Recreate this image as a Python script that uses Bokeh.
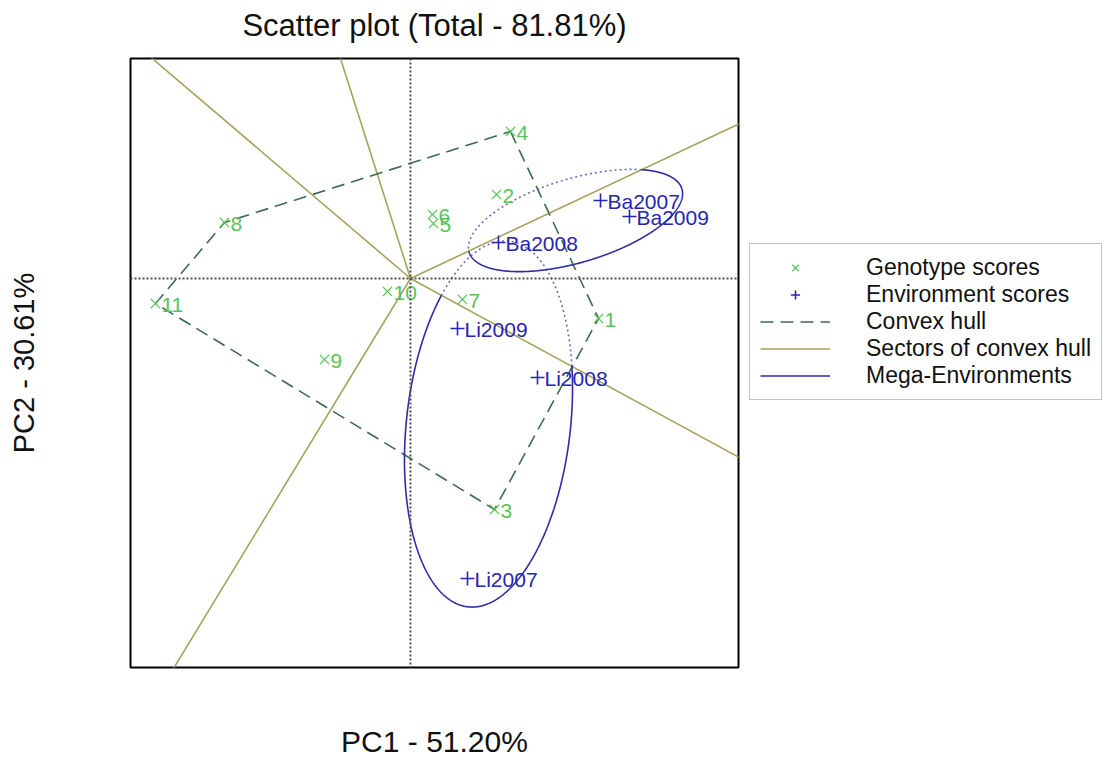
import numpy as np
from bokeh.plotting import figure
from bokeh.models import Legend, LegendItem, ColumnDataSource, Range1d, FixedTicker, Span, LinearAxis
from bokeh.embed import file_html
from bokeh.resources import INLINE
from bokeh.core.properties import value

# ---------------- data ----------------
gen_labels = ["1", "2", "3", "4", "5", "6", "7", "8", "9", "10", "11"]
gen_pc1 = [1.88, 0.86, 0.84, 1.00, 0.23, 0.22, 0.52, -1.86, -0.86, -0.23, -2.55]
gen_pc2 = [-0.40, 0.84, -2.31, 1.47, 0.55, 0.64, -0.21, 0.56, -0.81, -0.13, -0.25]

env_labels = ["Ba2007", "Ba2009", "Ba2008", "Li2009", "Li2008", "Li2007"]
env_pc1 = [1.90, 2.19, 0.88, 0.47, 1.27, 0.57]
env_pc2 = [0.78, 0.62, 0.36, -0.50, -0.99, -3.00]

hull_order = ["4", "1", "3", "11", "8"]

# mega-environment ellipses
me_cx = [1.65, 0.78]
me_cy = [0.58, -1.455]
me_a = [1.11, 1.84]
me_b = [0.42, 0.82]
me_angle = [16.5, 83.6]
me_winner = ["1", "3"]

x_lim = (-2.80, 3.28)
y_lim = (-3.89, 2.20)

title_text = "Scatter plot (Total - 81.81%)"
xlab = "PC1 - 51.20%"
ylab = "PC2 - 30.61%"

# ---------------- colours ----------------
C_GEN = "#58c458"
C_ENV = "#2626ae"
C_HULL = "#3d6b4f"
C_SECT = "#a7a25d"
C_ELL = "#2c2ca6"
C_ELL_DOT = "#6a6ac4"
FONT = "Liberation Sans"

p = figure(frame_width=608, frame_height=609, output_backend="svg", toolbar_location=None,
           x_range=Range1d(*x_lim), y_range=Range1d(*y_lim),
           min_border_left=130, min_border_right=360, min_border_top=58, min_border_bottom=96)
p.grid.visible = False
p.outline_line_color = "black"
p.outline_line_width = 2
p.background_fill_color = "white"
p.border_fill_color = "white"
p.title.visible = False

bottom_axis = p.below[0]
left_axis = p.left[0]
# title drawn as the label of an (otherwise empty) top axis
top_axis = LinearAxis(axis_label=title_text)
p.add_layout(top_axis, "above")

for ax in (bottom_axis, left_axis, top_axis):
    ax.ticker = FixedTicker(ticks=[])
    ax.axis_line_color = None
    ax.major_tick_line_color = None
    ax.minor_tick_line_color = None
    ax.major_label_text_font_size = "0px"
    ax.major_tick_out = 0
    ax.major_label_standoff = 0
    ax.axis_label_text_font = FONT
    ax.axis_label_text_font_style = "normal"
    ax.axis_label_text_color = "#111111"
bottom_axis.axis_label = xlab
left_axis.axis_label = ylab
bottom_axis.axis_label_text_font_size = "30px"
left_axis.axis_label_text_font_size = "29px"
top_axis.axis_label_text_font_size = "31px"
bottom_axis.axis_label_standoff = 57
left_axis.axis_label_standoff = 91
top_axis.axis_label_standoff = 16

# dotted reference axes
p.add_layout(Span(location=0, dimension="width", line_color="#505050", line_dash="2 2", line_width=2))
p.add_layout(Span(location=0, dimension="height", line_color="#505050", line_dash="2 2", line_width=2))

gx = dict(zip(gen_labels, gen_pc1))
gy = dict(zip(gen_labels, gen_pc2))

# sectors: rays from origin perpendicular to hull edges
sx, sy = [], []
for i in range(len(hull_order)):
    P = np.array([gx[hull_order[i]], gy[hull_order[i]]])
    Q = np.array([gx[hull_order[(i + 1) % len(hull_order)]], gy[hull_order[(i + 1) % len(hull_order)]]])
    d = Q - P
    n = np.array([d[1], -d[0]])
    if n @ P < 0:
        n = -n
    n = n / np.linalg.norm(n) * 20
    sx.append([0, n[0]])
    sy.append([0, n[1]])
r_sect = p.multi_line(sx, sy, line_color=C_SECT, line_width=1.6)

# convex hull
hx = [gx[k] for k in hull_order] + [gx[hull_order[0]]]
hy = [gy[k] for k in hull_order] + [gy[hull_order[0]]]
r_hull = p.line(hx, hy, line_color=C_HULL, line_width=1.6, line_dash="13 7")

# ellipses split into in-sector (solid) and out-of-sector (dotted)
G = np.column_stack([gen_pc1, gen_pc2])
solid_x, solid_y, dot_x, dot_y = [], [], [], []
t = np.linspace(0, 2 * np.pi, 1441)
for cx, cy, a, b, ang, win in zip(me_cx, me_cy, me_a, me_b, me_angle, me_winner):
    th = np.deg2rad(ang)
    ex = cx + a * np.cos(t) * np.cos(th) - b * np.sin(t) * np.sin(th)
    ey = cy + a * np.cos(t) * np.sin(th) + b * np.sin(t) * np.cos(th)
    scores = G @ np.vstack([ex, ey])
    winners = np.array(gen_labels)[np.argmax(scores, axis=0)]
    mask = winners == win
    start = 0
    n = len(mask)
    for i in range(1, n + 1):
        if i == n or mask[i] != mask[start]:
            end = min(i + 1, n)
            if mask[start]:
                solid_x.append(list(ex[start:end])); solid_y.append(list(ey[start:end]))
            else:
                dot_x.append(list(ex[start:end])); dot_y.append(list(ey[start:end]))
            start = i
p.multi_line(dot_x, dot_y, line_color=C_ELL_DOT, line_width=1.6, line_dash="2 3")
r_ell = p.multi_line(solid_x, solid_y, line_color=C_ELL, line_width=1.6)

# points
gsrc = ColumnDataSource(dict(x=gen_pc1, y=gen_pc2, lab=gen_labels))
esrc = ColumnDataSource(dict(x=env_pc1, y=env_pc2, lab=env_labels))
r_gen = p.scatter("x", "y", source=gsrc, marker="x", size=13, line_color=C_GEN, line_width=1.3)
r_env = p.scatter("x", "y", source=esrc, marker="cross", size=14, line_color=C_ENV, line_width=1.6)
p.text("x", "y", text="lab", source=gsrc, x_offset=6, y_offset=1, text_font=value(FONT),
       text_font_size="21px", text_color=C_GEN, text_align="left", text_baseline="middle")
p.text("x", "y", text="lab", source=esrc, x_offset=7, y_offset=1, text_font=value(FONT),
       text_font_size="21px", text_color=C_ENV, text_align="left", text_baseline="middle")

legend = Legend(items=[
    LegendItem(label="Genotype scores", renderers=[r_gen]),
    LegendItem(label="Environment scores", renderers=[r_env]),
    LegendItem(label="Convex hull", renderers=[r_hull]),
    LegendItem(label="Sectors of convex hull", renderers=[r_sect]),
    LegendItem(label="Mega-Environments", renderers=[r_ell]),
], location=(11, 267))
legend.margin = 0
legend.padding = 10
legend.spacing = 0
legend.glyph_width = 70
legend.glyph_height = 23
legend.label_height = 20
legend.label_standoff = 36
legend.label_text_font = FONT
legend.label_text_font_size = "23px"
legend.label_text_color = "#111111"
legend.border_line_color = "#8a8a8a"
legend.border_line_width = 1.5
legend.background_fill_alpha = 1.0
p.add_layout(legend, "right")

open("out.html", "w").write(file_html(p, INLINE))
